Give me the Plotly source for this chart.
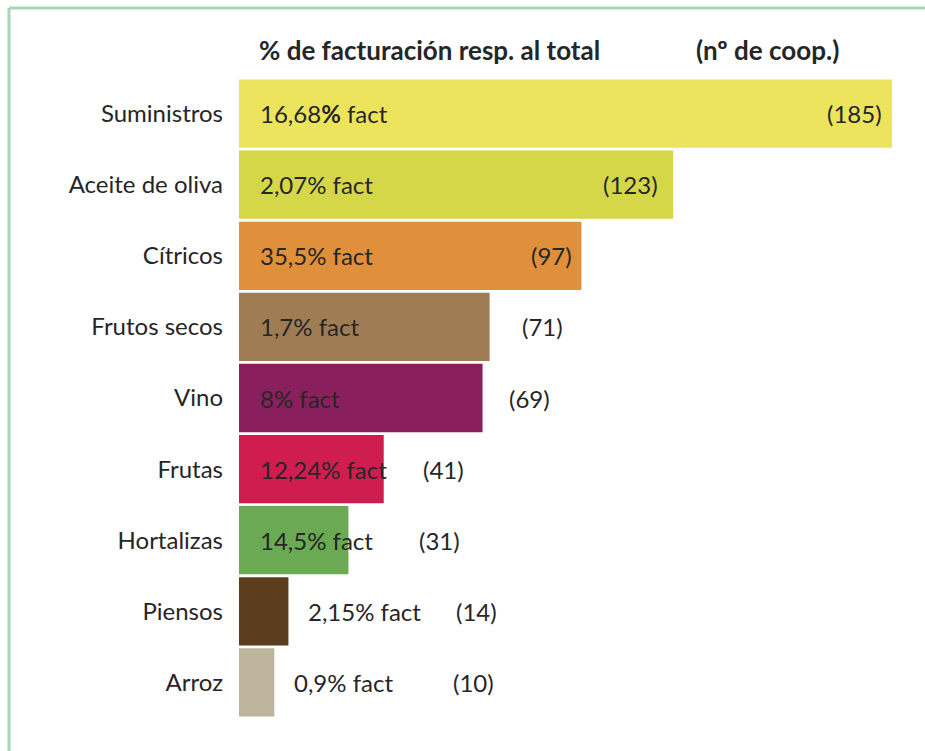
import plotly.graph_objects as go

categories = ["Suministros", "Aceite de oliva", "Cítricos", "Frutos secos", "Vino",
              "Frutas", "Hortalizas", "Piensos", "Arroz"]
n_coops = [185, 123, 97, 71, 69, 41, 31, 14, 10]
pct_fact = ["16,68<b>%</b> fact", "2,07% fact", "35,5% fact", "1,7% fact", "8% fact",
            "12,24% fact", "14,5% fact", "2,15% fact", "0,9% fact"]
colors = ["#EDE45E", "#D6D748", "#E0903A", "#A07C55", "#8A1F5E",
          "#D01D50", "#6AAA52", "#5B3C1D", "#BDB49E"]

# label layout (data units of the x axis)
count_label_x = [174.5, 111, 88.4, 86.1, 82.2, 57.8, 56.9, 67.4, 66.3]
pct_inside_x = 5.3
pct_outside_offset = 5.0

FONT = "Lato"
TXT = "#262626"

fig = go.Figure()
fig.add_trace(go.Bar(
    y=categories, x=n_coops, orientation="h",
    marker=dict(color=colors, line=dict(width=0)),
    hoverinfo="skip",
))

annotations = []
for i, (cat, v, p) in enumerate(zip(categories, n_coops, pct_fact)):
    px_x = pct_inside_x if v > 20 else v + pct_outside_offset
    annotations.append(dict(x=px_x, y=cat, xref="x", yref="y", text=p,
                            showarrow=False, xanchor="left", yanchor="middle",
                            font=dict(family=FONT, size=24, color=TXT)))
    annotations.append(dict(x=count_label_x[i], y=cat, xref="x", yref="y",
                            text=f"({v})", showarrow=False, xanchor="center",
                            yanchor="middle",
                            font=dict(family=FONT, size=24, color=TXT)))

annotations.append(dict(x=257, y=751 - 50, xref="paper", yref="paper", text="<b>% de facturación resp. al total</b>",
                        showarrow=False, xanchor="left", yanchor="middle",
                        font=dict(family=FONT, size=26, color=TXT)))
annotations.append(dict(x=694, y=751 - 50, xref="paper", yref="paper", text="<b>(nº de coop.)</b>",
                        showarrow=False, xanchor="left", yanchor="middle",
                        font=dict(family=FONT, size=26, color=TXT)))

W, H = 925, 751
L, R, T, B = 239, 33, 78, 33
pw, ph = W - L - R, H - T - B
# convert pixel-positioned header annotations to paper coords
for a in annotations:
    if a["xref"] == "paper":
        a["x"] = (a["x"] - L) / pw
        a["y"] = (a["y"] - B) / ph

fig.update_layout(
    width=W, height=H,
    margin=dict(l=L, r=R, t=T, b=B, pad=0),
    paper_bgcolor="white", plot_bgcolor="white",
    showlegend=False, bargap=0.04,
    xaxis=dict(range=[0, 185], visible=False, fixedrange=True),
    yaxis=dict(autorange="reversed", showgrid=False, zeroline=False, showline=False,
               ticks="", ticklabelstandoff=15, fixedrange=True,
               tickfont=dict(family=FONT, size=24, color=TXT)),
    annotations=annotations,
    shapes=[
        dict(type="line", xref="paper", yref="paper",
             x0=(9 - L) / pw, x1=(W + 5 - L) / pw, y0=(H - 8 - B) / ph, y1=(H - 8 - B) / ph,
             line=dict(color="#A9D6B8", width=3)),
        dict(type="line", xref="paper", yref="paper",
             x0=(9 - L) / pw, x1=(9 - L) / pw, y0=(H - 8 - B) / ph, y1=(-5 - B) / ph,
             line=dict(color="#A9D6B8", width=3)),
    ],
)

fig.write_html("out.html", config={"displayModeBar": False},
               post_script="document.body.style.margin='0';")
